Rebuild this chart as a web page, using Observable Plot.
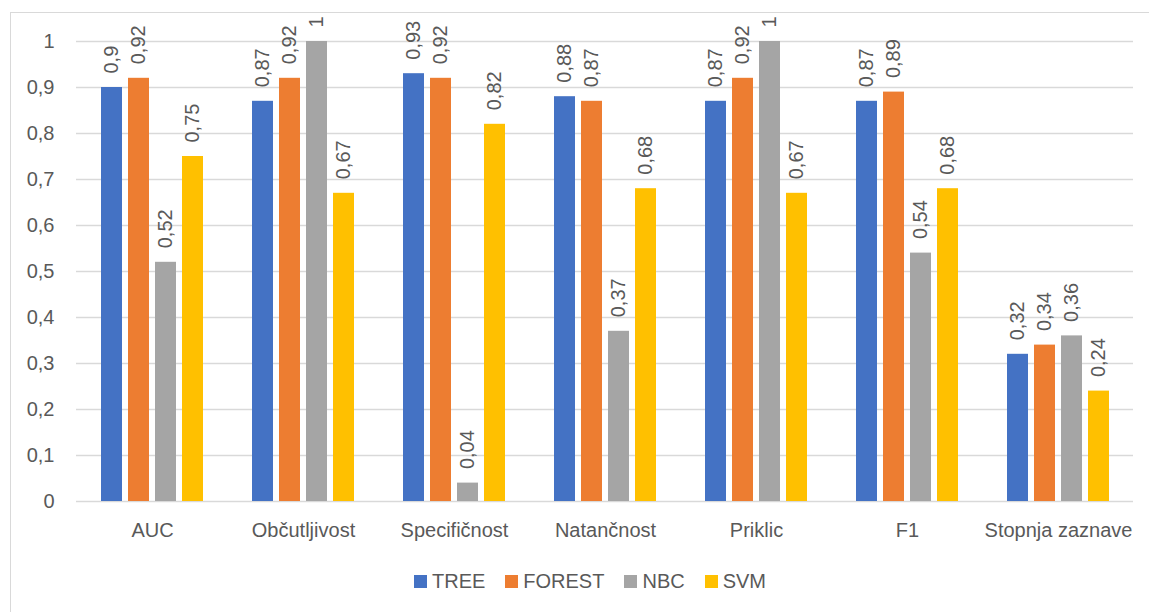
<!DOCTYPE html>
<html>
<head>
<meta charset="utf-8">
<script src="https://cdn.jsdelivr.net/npm/d3@7"></script>
<script src="https://cdn.jsdelivr.net/npm/@observablehq/plot@0.6"></script>
<style>
  body { margin: 0; background: #fff; font-family: "Liberation Sans", Arial, sans-serif; }
  #wrap { position: relative; width: 1149px; height: 612px; overflow: hidden; }
  #frame { position: absolute; left: 10px; top: 12px; width: 1300px; height: 800px; border: 1.5px solid #d9d9d9; }
  .layer { position: absolute; left: 0; top: 0; }
  #legend { position: absolute; left: 0; top: 570px; width: 1180px; display: flex; justify-content: center; gap: 20px; font-size: 20px; color: #595959; }
  #legend span.item { display: flex; align-items: center; gap: 5px; }
  #legend span.sw { width: 13px; height: 13px; display: inline-block; }
</style>
</head>
<body>
<div id="wrap">
  <div id="frame"></div>
  <div id="grid" class="layer"></div>
  <div id="chart" class="layer"></div>
  <div id="legend"></div>
</div>
<script>
const categories = ["AUC", "Občutljivost", "Specifičnost", "Natančnost", "Priklic", "F1", "Stopnja zaznave"];
const models = ["TREE", "FOREST", "NBC", "SVM"];
const colors = ["#4472C4", "#ED7D31", "#A5A5A5", "#FFC000"];
const TREE   = [0.90, 0.87, 0.93, 0.88, 0.87, 0.87, 0.32];
const FOREST = [0.92, 0.92, 0.92, 0.87, 0.92, 0.89, 0.34];
const NBC    = [0.52, 1.00, 0.04, 0.37, 1.00, 0.54, 0.36];
const SVM    = [0.75, 0.67, 0.82, 0.68, 0.67, 0.68, 0.24];
const yTicks = [0, 0.1, 0.2, 0.3, 0.4, 0.5, 0.6, 0.7, 0.8, 0.9, 1];

const series = {TREE, FOREST, NBC, SVM};
const data = [];
categories.forEach((c, i) => models.forEach(m => data.push({cat: c, model: m, value: series[m][i]})));
const fmt = v => String(+v.toFixed(2)).replace(".", ",");
const FS = 20;

const common = {
  width: 1149,
  height: 560,
  marginLeft: 76,
  marginRight: 16,
  marginTop: 41,
  marginBottom: 59,
  style: {fontFamily: "Liberation Sans, Arial, sans-serif", fontSize: FS + "px", color: "#595959", background: "transparent"},
  y: {domain: [0, 1], axis: null}
};

const grid = Plot.plot({
  ...common,
  marks: [
    Plot.ruleY(yTicks, {y: d => d, stroke: "#d9d9d9", strokeWidth: 1.5}),
    Plot.axisY(yTicks, {tickSize: 0, tickPadding: 22, tickFormat: fmt, fontSize: FS, fill: "#595959", label: null})
  ]
});
document.getElementById("grid").appendChild(grid);

const chart = Plot.plot({
  ...common,
  fx: {domain: categories, paddingInner: 0.285, paddingOuter: 0.1425, label: null},
  x: {domain: models, paddingInner: 0.22, paddingOuter: 0.11, axis: null},
  color: {domain: models, range: colors},
  marks: [
    Plot.axisFx({anchor: "bottom", tickSize: 0, tickPadding: 21, fontSize: FS, fill: "#595959", label: null}),
    Plot.barY(data, {fx: "cat", x: "model", y: "value", fill: "model"}),
    Plot.text(data, {fx: "cat", x: "model", y: "value", text: d => fmt(d.value), rotate: -90, textAnchor: "start", dy: -14, fontSize: FS, fill: "#595959"})
  ]
});
document.getElementById("chart").appendChild(chart);

const legend = document.getElementById("legend");
models.forEach((m, i) => {
  const item = document.createElement("span");
  item.className = "item";
  const sw = document.createElement("span");
  sw.className = "sw";
  sw.style.background = colors[i];
  const t = document.createElement("span");
  t.textContent = m;
  item.appendChild(sw);
  item.appendChild(t);
  legend.appendChild(item);
});
</script>
</body>
</html>
